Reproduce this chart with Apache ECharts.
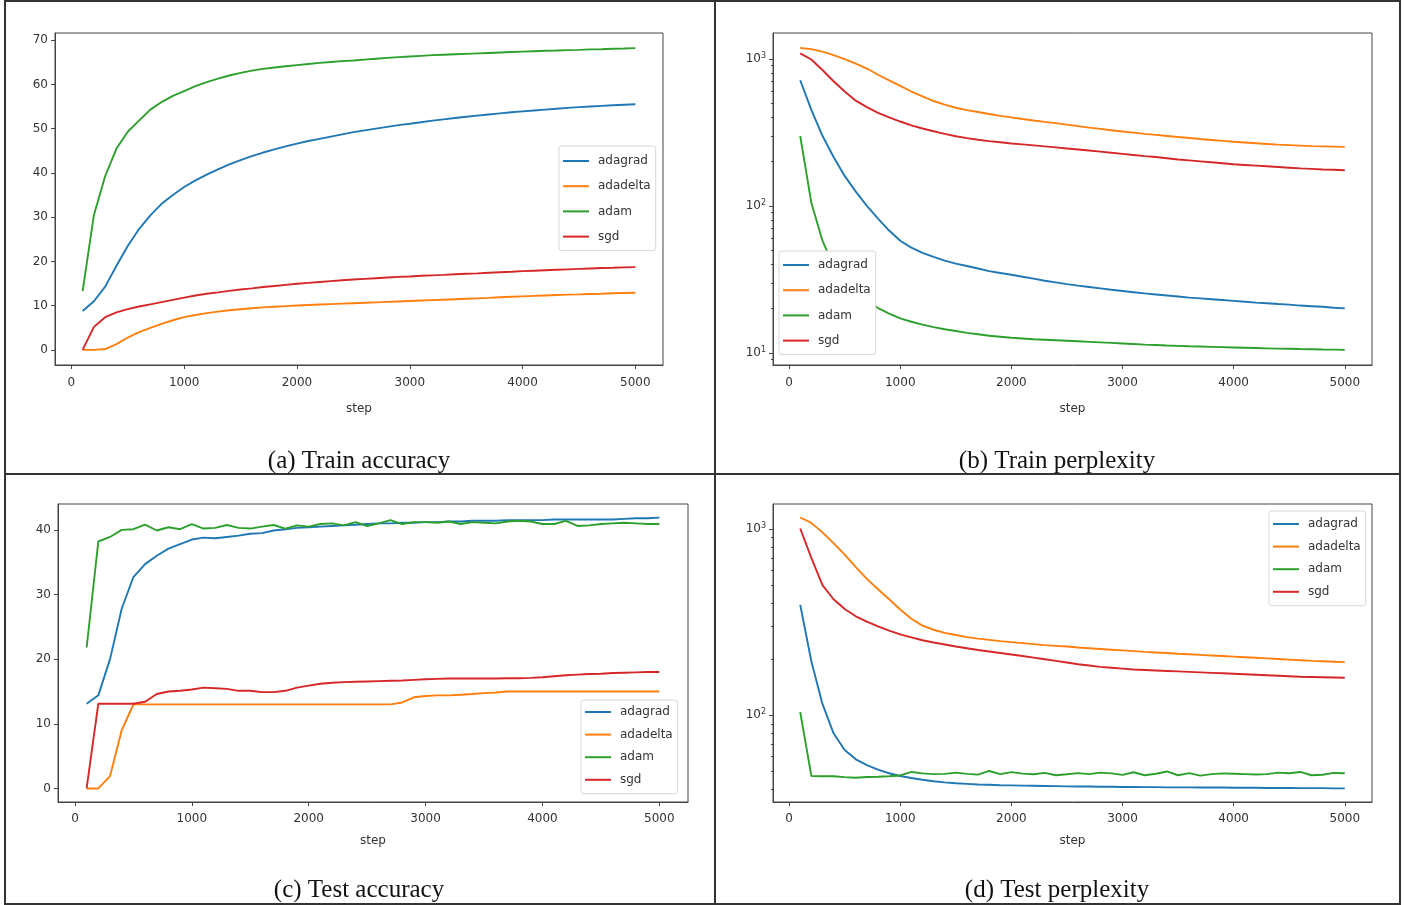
<!DOCTYPE html>
<html>
<head>
<meta charset="utf-8">
<title>optimizer comparison</title>
<script src="https://cdn.jsdelivr.net/npm/echarts@6/dist/echarts.min.js"></script>
<style>
    html, body { margin: 0; padding: 0; background: #fff; }
    #main { width: 1406px; height: 905px; }
</style>
</head>
<body>
<div id="main"></div>
<script>
// training step of every logged point
var steps = [100, 200, 300, 400, 500, 600, 700, 800, 900, 1000,
    1100, 1200, 1300, 1400, 1500, 1600, 1700, 1800, 1900, 2000,
    2100, 2200, 2300, 2400, 2500, 2600, 2700, 2800, 2900, 3000,
    3100, 3200, 3300, 3400, 3500, 3600, 3700, 3800, 3900, 4000,
    4100, 4200, 4300, 4400, 4500, 4600, 4700, 4800, 4900, 5000];

var optimizers = ['adagrad', 'adadelta', 'adam', 'sgd'];

// (a) train accuracy
var trainAccAdagrad = [8.8, 11.0, 14.3, 19.0, 23.5, 27.3, 30.4, 33.0, 35.0, 36.8,
    38.3, 39.6, 40.8, 41.9, 42.9, 43.8, 44.6, 45.3, 46.0, 46.6,
    47.2, 47.7, 48.2, 48.7, 49.2, 49.6, 50.0, 50.4, 50.8, 51.1,
    51.45, 51.8, 52.1, 52.4, 52.7, 52.95, 53.2, 53.45, 53.7, 53.9,
    54.1, 54.3, 54.5, 54.7, 54.85, 55.0, 55.15, 55.3, 55.4, 55.5];
var trainAccAdadelta = [0, 0, 0.2, 1.3, 2.8, 4.0, 5.0, 5.9, 6.7, 7.4,
    7.9, 8.3, 8.65, 8.95, 9.2, 9.4, 9.6, 9.75, 9.9, 10.05,
    10.15, 10.25, 10.35, 10.45, 10.55, 10.65, 10.75, 10.85, 10.95, 11.05,
    11.15, 11.25, 11.35, 11.45, 11.55, 11.65, 11.75, 11.9, 12.0, 12.1,
    12.2, 12.3, 12.4, 12.5, 12.55, 12.65, 12.7, 12.8, 12.85, 12.9];
var trainAccAdam = [13.3, 30.5, 39.3, 45.5, 49.3, 51.8, 54.3, 56.0, 57.4, 58.5,
    59.6, 60.5, 61.3, 62.0, 62.6, 63.1, 63.5, 63.8, 64.1, 64.35,
    64.6, 64.85, 65.05, 65.25, 65.4, 65.6, 65.8, 66.0, 66.15, 66.3,
    66.45, 66.6, 66.7, 66.8, 66.9, 67.0, 67.1, 67.2, 67.3, 67.4,
    67.5, 67.6, 67.65, 67.75, 67.8, 67.9, 67.95, 68.05, 68.1, 68.2];
var trainAccSgd = [0, 5.2, 7.4, 8.5, 9.2, 9.8, 10.3, 10.8, 11.3, 11.8,
    12.3, 12.7, 13.0, 13.35, 13.65, 13.9, 14.2, 14.45, 14.7, 14.95,
    15.15, 15.35, 15.55, 15.75, 15.9, 16.05, 16.2, 16.35, 16.5, 16.6,
    16.75, 16.85, 16.95, 17.1, 17.2, 17.3, 17.45, 17.55, 17.65, 17.8,
    17.9, 18.0, 18.1, 18.2, 18.3, 18.4, 18.5, 18.55, 18.65, 18.7];

// (b) train perplexity
var trainPplAdagrad = [716, 450, 300, 215, 160, 125, 100, 82, 68, 58,
    52, 48, 45, 42.5, 40.5, 39, 37.5, 36, 35, 34,
    33, 32, 31, 30.2, 29.4, 28.7, 28.1, 27.5, 26.9, 26.4,
    25.9, 25.4, 25.0, 24.6, 24.2, 23.8, 23.5, 23.2, 22.9, 22.6,
    22.3, 22.0, 21.8, 21.5, 21.3, 21.0, 20.8, 20.6, 20.3, 20.1];
var trainPplAdadelta = [1185, 1165, 1120, 1060, 995, 930, 860, 780, 715, 655,
    600, 555, 517, 488, 465, 448, 435, 422, 410, 400,
    390, 381, 373, 366, 357, 349, 341, 334, 327, 321,
    315, 309, 304, 299, 294, 290, 285, 281, 277, 273,
    270, 267, 264, 261, 259, 257, 255, 254, 253, 252];
var trainPplAdam = [299, 105, 58, 39, 30, 25.5, 22.5, 20.2, 18.5, 17.2,
    16.3, 15.6, 15.0, 14.5, 14.1, 13.7, 13.4, 13.1, 12.9, 12.7,
    12.55, 12.4, 12.3, 12.2, 12.1, 12.0, 11.9, 11.8, 11.7, 11.6,
    11.5, 11.4, 11.33, 11.25, 11.18, 11.1, 11.05, 11.0, 10.95, 10.9,
    10.85, 10.8, 10.75, 10.7, 10.67, 10.63, 10.6, 10.56, 10.53, 10.5];
var trainPplSgd = [1090, 990, 840, 705, 600, 520, 470, 430, 400, 375,
    353, 336, 322, 309, 298, 289, 282, 276, 271, 266,
    262, 258, 254, 250, 246, 242, 238, 234, 230, 226,
    222, 218, 215, 211, 207, 204, 201, 198, 195, 192,
    190, 188, 186, 184, 182, 180, 178.5, 177, 176, 175];

// (c) test accuracy
var testAccAdagrad = [13.1, 14.4, 20.0, 27.8, 32.7, 34.7, 36.0, 37.1, 37.8, 38.5,
    38.8, 38.7, 38.9, 39.1, 39.4, 39.5, 39.9, 40.1, 40.3, 40.4,
    40.5, 40.6, 40.7, 40.8, 40.9, 41.0, 41.0, 41.1, 41.1, 41.2,
    41.2, 41.3, 41.3, 41.4, 41.4, 41.4, 41.5, 41.5, 41.5, 41.5,
    41.6, 41.6, 41.6, 41.6, 41.6, 41.6, 41.7, 41.8, 41.8, 41.9];
var testAccAdadelta = [0, 0, 1.9, 9.0, 13.0, 13.0, 13.0, 13.0, 13.0, 13.0,
    13.0, 13.0, 13.0, 13.0, 13.0, 13.0, 13.0, 13.0, 13.0, 13.0,
    13.0, 13.0, 13.0, 13.0, 13.0, 13.0, 13.0, 13.3, 14.1, 14.3,
    14.4, 14.4, 14.5, 14.6, 14.75, 14.85, 15.0, 15.0, 15.0, 15.0,
    15.0, 15.0, 15.0, 15.0, 15.0, 15.0, 15.0, 15.0, 15.0, 15.0];
var testAccAdam = [21.8, 38.2, 38.9, 40.0, 40.1, 40.8, 39.9, 40.4, 40.1, 40.9,
    40.2, 40.3, 40.75, 40.3, 40.2, 40.5, 40.75, 40.2, 40.7, 40.5,
    40.9, 41.0, 40.7, 41.2, 40.6, 41.0, 41.5, 40.9, 41.2, 41.2,
    41.1, 41.3, 40.9, 41.2, 41.1, 41.0, 41.3, 41.4, 41.3, 40.9,
    40.9, 41.4, 40.6, 40.7, 40.9, 41.0, 41.1, 41.0, 40.9, 40.9];
var testAccSgd = [0, 13.1, 13.1, 13.1, 13.1, 13.4, 14.6, 15.0, 15.1, 15.3,
    15.6, 15.5, 15.4, 15.1, 15.1, 14.9, 14.9, 15.1, 15.6, 15.9,
    16.2, 16.35, 16.45, 16.5, 16.55, 16.6, 16.65, 16.7, 16.8, 16.9,
    16.95, 17.0, 17.0, 17.0, 17.0, 17.0, 17.05, 17.05, 17.1, 17.2,
    17.35, 17.5, 17.6, 17.7, 17.75, 17.85, 17.9, 17.95, 18.0, 18.0];

// (d) test perplexity
var testPplAdagrad = [392, 195, 115, 80, 65, 58, 54, 51, 48.8, 47.2,
    46, 45, 44.2, 43.6, 43.1, 42.8, 42.5, 42.3, 42.1, 42.0,
    41.9, 41.8, 41.7, 41.6, 41.5, 41.4, 41.4, 41.3, 41.3, 41.2,
    41.2, 41.1, 41.1, 41.0, 41.0, 41.0, 40.9, 40.9, 40.9, 40.8,
    40.8, 40.8, 40.7, 40.7, 40.7, 40.6, 40.6, 40.6, 40.5, 40.5];
var testPplAdadelta = [1154, 1080, 960, 840, 730, 625, 540, 475, 420, 370,
    330, 303, 288, 277, 270, 263, 258, 254, 250, 247,
    244, 241, 238, 236, 234, 231, 229, 227, 225, 223,
    221, 219, 217.5, 216, 214, 212.5, 211, 209.5, 208, 206.5,
    205, 203.5, 202, 200.5, 199, 197.5, 196, 195, 194, 193];
var testPplAdam = [104, 47.2, 47.0, 47.0, 46.5, 46.2, 46.6, 46.7, 47.0, 47.5,
    49.6, 48.7, 48.3, 48.4, 49.2, 48.4, 48.0, 50.2, 48.3, 49.5,
    48.6, 48.2, 49.0, 47.6, 48.2, 48.9, 48.3, 49.2, 48.7, 47.8,
    49.4, 47.6, 48.5, 49.9, 47.6, 48.9, 47.4, 48.3, 48.7, 48.5,
    48.3, 48.1, 48.3, 49.2, 48.8, 49.6, 47.6, 47.9, 49.0, 48.8];
var testPplSgd = [1007, 700, 500, 420, 372, 340, 318, 300, 285, 272,
    262, 253, 246, 240, 234, 229, 224, 220, 216, 212,
    208, 204, 200, 196, 192, 188, 185, 182, 180, 178,
    176, 175, 174, 173, 172, 171, 170, 169, 168, 167,
    166, 165, 164, 163, 162, 161, 160.5, 160, 159.5, 159];

// tick values
var stepTicks = [0, 1000, 2000, 3000, 4000, 5000];
var trainAccTicks = [0, 10, 20, 30, 40, 50, 60, 70];
var testAccTicks = [0, 10, 20, 30, 40];
var pplTicks = [10, 100, 1000];
var trainPplMinor = [9, 20, 30, 40, 50, 60, 70, 80, 90, 200, 300, 400, 500, 600, 700, 800, 900];
var testPplMinor = [40, 50, 60, 70, 80, 90, 200, 300, 400, 500, 600, 700, 800, 900];

var captions = ['(a) Train accuracy', '(b) Train perplexity', '(c) Test accuracy', '(d) Test perplexity'];

var colors = { adagrad: '#1f77b4', adadelta: '#ff7f0e', adam: '#2ca02c', sgd: '#d62728' };
var FONT = 'DejaVu Sans';
var INK = '#333';

var chart = echarts.init(document.getElementById('main'));

// grid boxes of the four panels
var boxes = [
    { left: 55, top: 33, width: 608, height: 332 },
    { left: 773, top: 33, width: 599, height: 332 },
    { left: 58, top: 504, width: 630, height: 298 },
    { left: 773, top: 504, width: 599, height: 298 }
];
var nameGaps = [38, 38, 33, 33];
var labelMargins = [12, 12, 11, 11];
var yRanges = [[-3.41, 71.61], [8.28, 1500], [-2.1, 44.0], [34.2, 1364]];
var legendBoxes = [
    { left: 559, top: 146, gap: 13.2, pad: [9, 5, 8, 4] },
    { left: 779, top: 251, gap: 13.2, pad: [8, 5, 8, 4] },
    { left: 581, top: 700, gap: 10.6, pad: [6, 5, 8, 4] },
    { left: 1269, top: 511, gap: 10.6, pad: [7, 5, 8, 4] }
];

function axisLine() { return { show: true, onZero: false, lineStyle: { color: '#444', width: 1 } }; }
function tickStyle(vals, len) {
    return { show: true, inside: false, length: len, customValues: vals, lineStyle: { color: '#444', width: 1 } };
}
function pow10Label(v) {
    return '10{sup|' + Math.round(Math.log10(v)) + '}';
}

var xAxes = boxes.map(function (b, i) {
    return {
        type: 'value', gridIndex: i, min: -145, max: 5245,
        name: 'step', nameLocation: 'middle', nameGap: nameGaps[i],
        nameTextStyle: { fontFamily: FONT, fontSize: 12, color: INK },
        axisLine: axisLine(),
        axisTick: tickStyle(stepTicks, 4),
        axisLabel: {
            customValues: stepTicks, margin: labelMargins[i], fontFamily: FONT, fontSize: 12, color: INK,
            formatter: function (v) { return String(v); }
        },
        splitLine: { show: false }
    };
});

var yAxes = boxes.map(function (b, i) {
    var isLog = (i % 2 === 1);
    var ticks = isLog ? pplTicks : (i === 0 ? trainAccTicks : testAccTicks);
    var ax = {
        type: isLog ? 'log' : 'value', gridIndex: i,
        min: yRanges[i][0], max: yRanges[i][1],
        position: 'left',
        axisLine: axisLine(),
        splitLine: { show: false },
        axisTick: tickStyle(ticks, 4),
        axisLabel: {
            customValues: ticks, margin: 7, fontFamily: FONT, fontSize: 12, color: INK,
            formatter: function (v) { return String(v); }
        }
    };
    if (isLog) {
        ax.logBase = 10;
        ax.axisLabel.formatter = pow10Label;
        ax.axisLabel.rich = { sup: { fontFamily: FONT, fontSize: 8, color: INK, verticalAlign: 'top', padding: [0, 0, 6, 0] } };
    }
    return ax;
});
// minor ticks of the log axes
[[1, trainPplMinor], [3, testPplMinor]].forEach(function (m) {
    yAxes.push({
        type: 'log', logBase: 10, gridIndex: m[0], position: 'left', offset: 0,
        min: yRanges[m[0]][0], max: yRanges[m[0]][1],
        axisLine: { show: false, onZero: false },
        axisLabel: { show: false },
        splitLine: { show: false },
        axisTick: tickStyle(m[1], 2)
    });
});

var panelData = [
    [trainAccAdagrad, trainAccAdadelta, trainAccAdam, trainAccSgd],
    [trainPplAdagrad, trainPplAdadelta, trainPplAdam, trainPplSgd],
    [testAccAdagrad, testAccAdadelta, testAccAdam, testAccSgd],
    [testPplAdagrad, testPplAdadelta, testPplAdam, testPplSgd]
];

var series = [];
panelData.forEach(function (group, g) {
    group.forEach(function (vals, k) {
        var name = optimizers[k];
        series.push({
            name: name, type: 'line', xAxisIndex: g, yAxisIndex: g,
            data: steps.map(function (s, j) { return [s, vals[j]]; }),
            showSymbol: false, symbol: 'none', silent: true,
            color: colors[name],
            lineStyle: { width: 1.9, color: colors[name] }
        });
    });
});

var legends = legendBoxes.map(function (b) {
    return {
        orient: 'vertical', left: b.left, top: b.top,
        data: optimizers, icon: 'rect', itemWidth: 26, itemHeight: 2, itemGap: b.gap,
        padding: b.pad, backgroundColor: '#fff', borderColor: '#d6d6d6', borderWidth: 1, borderRadius: 3,
        selectedMode: false,
        textStyle: { fontFamily: FONT, fontSize: 12, color: INK, padding: [0, 0, 0, 4] }
    };
});

// panel frame and captions
var graphics = [
    { type: 'rect', shape: { x: 5, y: 1, width: 1395, height: 903 }, style: { fill: 'none', stroke: '#333', lineWidth: 2 } },
    { type: 'line', shape: { x1: 715, y1: 1, x2: 715, y2: 904 }, style: { stroke: '#333', lineWidth: 2 } },
    { type: 'line', shape: { x1: 5, y1: 474, x2: 1400, y2: 474 }, style: { stroke: '#333', lineWidth: 2 } }
];
var captionPos = [[359, 461], [1057, 461], [359, 890], [1057, 890]];
captions.forEach(function (c, i) {
    graphics.push({
        type: 'text', x: captionPos[i][0], y: captionPos[i][1],
        style: { text: c, font: '25px "Liberation Serif", "DejaVu Serif", serif', fill: '#111', textAlign: 'center', textVerticalAlign: 'middle' }
    });
});

var option = {
    backgroundColor: '#fff',
    animation: false,
    grid: boxes.map(function (b) {
        return { left: b.left, top: b.top, width: b.width, height: b.height, show: true,
            borderColor: '#444', borderWidth: 1, backgroundColor: 'transparent', containLabel: false, outerBoundsMode: 'none' };
    }),
    xAxis: xAxes,
    yAxis: yAxes,
    legend: legends,
    series: series,
    graphic: graphics
};
chart.setOption(option);
</script>
</body>
</html>
